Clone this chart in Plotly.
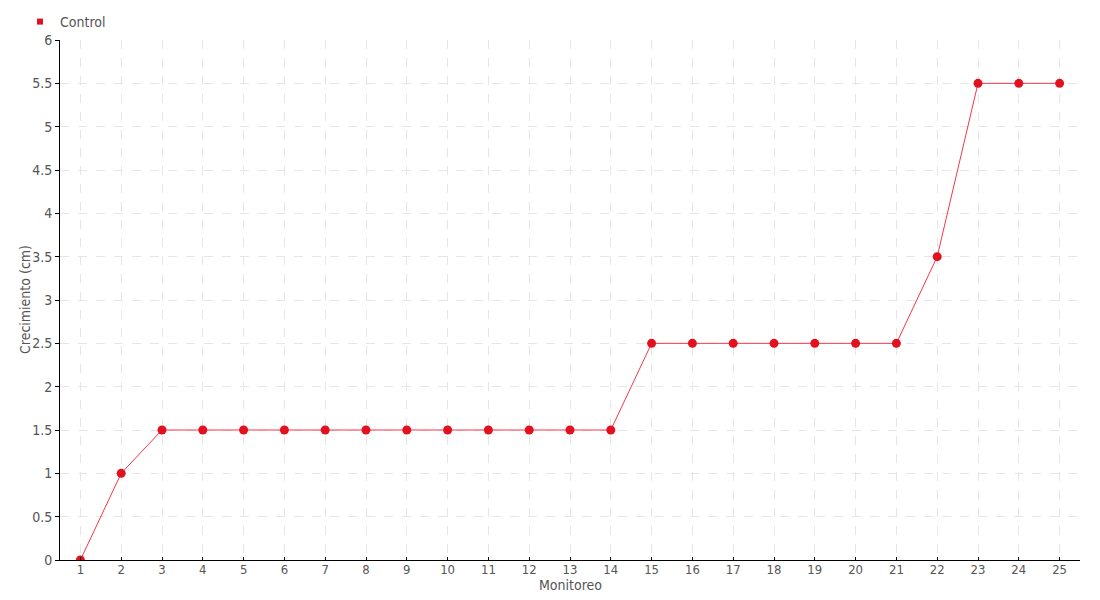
import plotly.graph_objects as go

monitoreo = [str(i) for i in range(1, 26)]
control = [0, 1, 1.5, 1.5, 1.5, 1.5, 1.5, 1.5, 1.5, 1.5, 1.5, 1.5, 1.5, 1.5,
           2.5, 2.5, 2.5, 2.5, 2.5, 2.5, 2.5, 3.5, 5.5, 5.5, 5.5]
y_ticks = [0, 0.5, 1, 1.5, 2, 2.5, 3, 3.5, 4, 4.5, 5, 5.5, 6]

FONT = "DejaVu Sans Condensed, Liberation Sans Narrow, sans-serif"

W, H = 1092, 592  # page body adds an 8px margin
PW, PH = 1020, 520

fig = go.Figure()
fig.add_trace(go.Scatter(
    x=monitoreo, y=control, name="Control", mode="lines+markers",
    line=dict(color="#f0394a", width=1),
    marker=dict(color="#e3111f", size=9),
    showlegend=False,
))
# legend entry: small square like the reference
fig.add_trace(go.Scatter(
    x=[None], y=[None], name="Control", mode="markers",
    marker=dict(color="#e3111f", size=6, symbol="square"),
    showlegend=True,
))

fig.add_annotation(
    text="Crecimiento (cm)", textangle=-90, showarrow=False,
    xref="paper", yref="paper", x=(17 - 52) / PW, y=0.5,
    xanchor="center", yanchor="middle", font=dict(size=14, color="#555555"),
)
fig.add_annotation(
    text="Monitoreo", showarrow=False,
    xref="paper", yref="paper", x=0.5, y=-25 / PH,
    xanchor="center", yanchor="middle", font=dict(size=14, color="#555555"),
)

fig.update_layout(
    width=W, height=H,
    margin=dict(l=52, r=20, t=32, b=40, autoexpand=False),
    plot_bgcolor="white", paper_bgcolor="white",
    font=dict(family=FONT, size=13, color="#555555"),
    showlegend=True,
    legend=dict(x=12 / W, y=1 - 14 / H, xref="container", yref="container",
                xanchor="left", yanchor="middle",
                orientation="h", font=dict(size=14, color="#555555"),
                itemwidth=30, bgcolor="rgba(0,0,0,0)"),
    xaxis=dict(
        type="category", range=[-0.5, 24.5], automargin=False,
        showline=True, linecolor="black", linewidth=1,
        ticks="inside", ticklen=3, tickcolor="black",
        ticklabelstandoff=-3,
        showgrid=True, gridcolor="#e6e6e6", griddash="dash",
        tickfont=dict(size=13),
    ),
    yaxis=dict(
        range=[0, 6], tickvals=y_ticks, ticktext=[f"{v:g}" for v in y_ticks],
        automargin=False,
        showline=True, linecolor="black", linewidth=1,
        ticks="outside", ticklen=4, tickcolor="black",
        showgrid=True, gridcolor="#e6e6e6", griddash="dash",
        zeroline=False,
        tickfont=dict(size=14),
    ),
)

fig.write_html("out.html")
